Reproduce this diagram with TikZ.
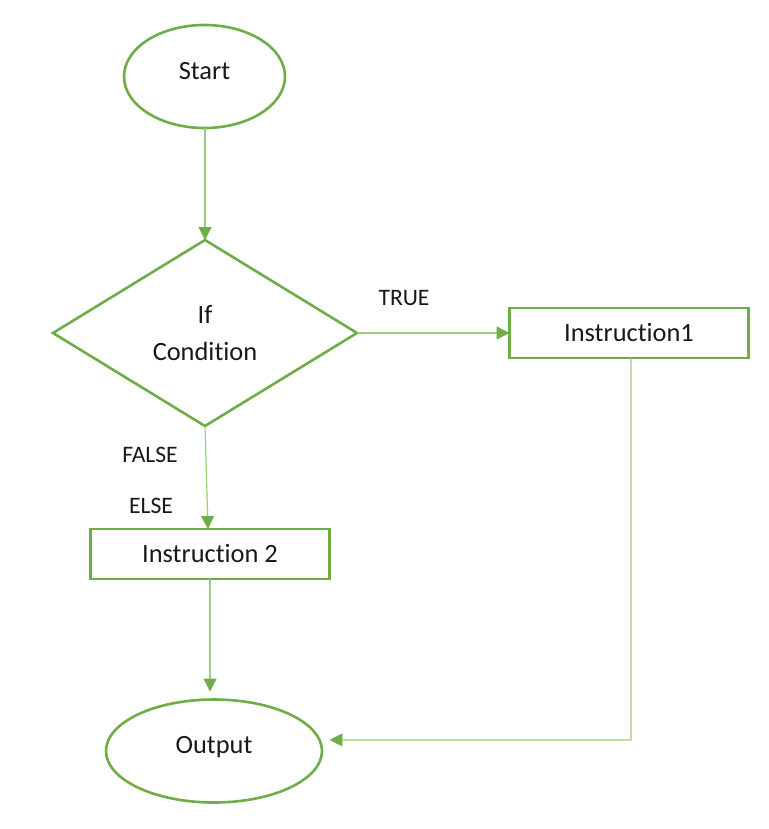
\documentclass[tikz,border=0pt]{standalone}
\usepackage{fontspec}
\setmainfont[Ligatures={NoCommon}]{Carlito}
\usetikzlibrary{shapes.geometric,arrows.meta}
\definecolor{gdark}{HTML}{70AD47}
\definecolor{glight}{HTML}{9CCC7C}
\begin{document}
\begin{tikzpicture}[x=0.5pt,y=-0.5pt,
  shapebox/.style={draw=gdark,line width=1.3pt,inner sep=0pt,outer sep=0pt,
    font=\fontsize{13.2}{18.5}\selectfont,text=black!90},
  term/.style={shapebox,ellipse,text depth=6pt},
  proc/.style={shapebox,rectangle,minimum width=119.5pt,minimum height=25pt},
  decision/.style={shapebox,diamond,minimum width=152pt,minimum height=93pt,align=center},
  conn/.style={draw=glight,line width=0.6pt,-{Triangle[length=6.5pt,width=6.5pt,color=gdark]}},
  lbl/.style={font=\fontsize{11.8}{14}\selectfont,inner sep=0pt,text=black!90}]
\useasboundingbox[fill=white] (0,0) rectangle (768,829);

\node[term,minimum width=80.5pt,minimum height=51.5pt] (start) at (204.5,76.5) {Start};
\node[decision] (cond) at (205,333) {If\\Condition};
\node[proc] (ins1) at (629,333) {Instruction1};
\node[proc] (ins2) at (210,554) {Instruction 2};
\node[term,minimum width=108pt,minimum height=51.5pt] (out) at (214,751) {Output};

\node[lbl] (ltrue) at (404,298) {TRUE};
\node[lbl] (lfalse) at (150,455) {FALSE};
\node[lbl] (lelse) at (151,506) {ELSE};

\coordinate (corner) at (631,740);

\draw[conn] (start.south -| cond.north) -- (cond.north);
\draw[conn] (cond.east) -- (ins1.west);
\draw[conn] (cond.south) -- ([xshift=-1pt]ins2.north);
\draw[conn,shorten >=4pt] (ins2.south) -- (ins2.south |- out.north);
\draw[conn,shorten >=5pt] (ins1.south -| corner) -- (corner) -- (out.6);
\end{tikzpicture}
\end{document}
